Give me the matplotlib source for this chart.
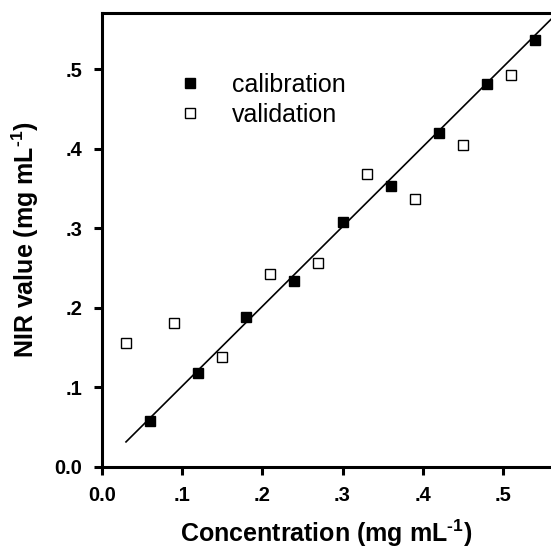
import numpy as np
import matplotlib
matplotlib.use("Agg")
import matplotlib.pyplot as plt

# Data
cal_x = [0.06, 0.12, 0.18, 0.24, 0.30, 0.36, 0.42, 0.48, 0.54]
cal_y = [0.058, 0.118, 0.188, 0.234, 0.308, 0.353, 0.419, 0.481, 0.537]

val_x = [0.03, 0.09, 0.15, 0.21, 0.27, 0.33, 0.39, 0.45, 0.51]
val_y = [0.155, 0.181, 0.138, 0.242, 0.256, 0.368, 0.337, 0.405, 0.493]

# regression line
fit_slope = 1.003
fit_intercept = 0.001
fit_range = [0.03, 0.58]

xticks = [0.0, 0.1, 0.2, 0.3, 0.4, 0.5]
xticklabels = ["0.0", ".1", ".2", ".3", ".4", ".5"]
yticks = [0.0, 0.1, 0.2, 0.3, 0.4, 0.5]
yticklabels = ["0.0", ".1", ".2", ".3", ".4", ".5"]

plt.rcParams['font.family'] = ['Liberation Sans', 'DejaVu Sans']
plt.rcParams['mathtext.fontset'] = 'custom'
plt.rcParams['mathtext.rm'] = 'Liberation Sans'
plt.rcParams['mathtext.bf'] = 'Liberation Sans:bold'

fig = plt.figure(figsize=(5.51, 5.50), dpi=100)
ax = fig.add_axes([0.185, 0.1516, 0.815, 0.824])

fx = np.array(fit_range)
ax.plot(fx, fit_slope * fx + fit_intercept, color='black', lw=1.2, zorder=2)

ax.plot(cal_x, cal_y, 's', color='black', ms=7.5, label='calibration', zorder=3)
ax.plot(val_x, val_y, 's', mfc='white', mec='black', mew=1.0, ms=7.5,
        label='validation', zorder=3)

ax.set_xlim(0, 0.5599)
ax.set_ylim(0, 0.570)

ax.set_xticks(xticks)
ax.set_xticklabels(xticklabels, fontweight='bold', fontsize=14.5)
ax.set_yticks(yticks)
ax.set_yticklabels(yticklabels, fontweight='bold', fontsize=14.5)
ax.tick_params(direction='out', length=6, width=2.2, pad=8)

for side in ['left', 'bottom', 'top']:
    ax.spines[side].set_linewidth(2.2)
ax.spines['right'].set_visible(False)

sup = '$^{\\mathbf{\u20101}}$'
ax.set_xlabel('Concentration (mg mL' + sup + ')', fontweight='bold',
              fontsize=18, labelpad=9)
ax.set_ylabel('NIR value (mg mL' + sup + ')', fontweight='bold',
              fontsize=18, labelpad=10)

ax.legend(loc='upper left', bbox_to_anchor=(0.168, 0.869), frameon=False,
          fontsize=18, handlelength=1.0, handletextpad=1.18,
          borderpad=0, borderaxespad=0, labelspacing=0.25)

fig.savefig('out.png', dpi=100)
